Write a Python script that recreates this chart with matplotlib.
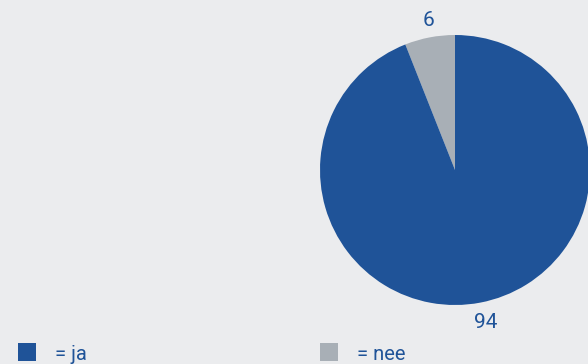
import matplotlib
matplotlib.use("Agg")
import matplotlib.pyplot as plt
from matplotlib.patches import Rectangle

# Answer shares (percent)
labels = ["nee", "ja"]
values = [6, 94]
colors = ["#a8afb6", "#1f5398"]
legend_labels = ["= ja", "= nee"]
legend_colors = ["#1f5398", "#a8afb6"]

bg = "#ebecee"
text_color = "#1f5398"
plt.rcParams["font.family"] = ["Roboto", "DejaVu Sans"]

fig = plt.figure(figsize=(5.88, 3.64), dpi=100, facecolor=bg)
ax = fig.add_axes([0, 0, 1, 1])
ax.set_facecolor(bg)

# Pie in pixel-like coordinates (y runs downward), so the gray slice
# starting at 12 o'clock and going left needs a clockwise sweep here
ax.pie(values, colors=colors, startangle=-90, counterclock=False,
       center=(455, 170), radius=135, frame=True,
       wedgeprops=dict(linewidth=0))
ax.set_xlim(0, 588)
ax.set_ylim(364, 0)
ax.set_aspect("equal")
ax.axis("off")

# Value labels
ax.text(428, 20, str(values[0]), color=text_color, fontsize=15,
        ha="center", va="center")
ax.text(486, 322, str(values[1]), color=text_color, fontsize=15,
        ha="center", va="center")

# Legend
for x0, lab, col in zip([18, 320], legend_labels, legend_colors):
    ax.add_patch(Rectangle((x0, 343), 18, 18, color=col, lw=0))
    ax.text(x0 + 37, 355, lab, color=text_color, fontsize=14.5,
            ha="left", va="center")

fig.savefig("out.png", dpi=100, facecolor=bg)
